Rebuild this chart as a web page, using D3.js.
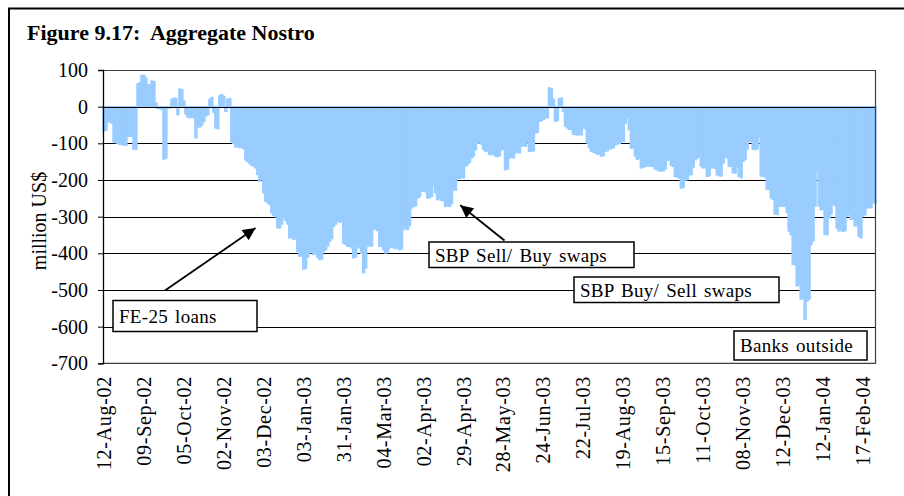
<!DOCTYPE html>
<html>
<head>
<meta charset="utf-8">
<script src="https://cdn.jsdelivr.net/npm/d3@7"></script>
<style>
  html, body { margin: 0; padding: 0; background: #fff; }
  svg { display: block; font-family: "Liberation Serif", "Times New Roman", serif; }
</style>
</head>
<body>
<div id="chart"></div>
<script>
/* ============================================================
   Figure 9.17: Aggregate Nostro - daily bars, million US$
   ============================================================ */

const W = 904, H = 496;
const PLOT = { left: 103, right: 876, top: 70, bottom: 363.3 };

// daily aggregate nostro (million US$), 20 trading days per row,
// starting 12-Aug-02 and running to end Feb-04
const nostro = [
  -66, -64, -42, -39, -45, -95, -98, -100, -103, -103, -105, -105, -81, -81, -80, -116, -116, 62, 65, 85,
  85, 78, 60, 58, 70, 68, 10, -5, -5, -8, -143, -140, -4, -3, 20, 23, 22, -22, 48, 46,
  15, -20, -28, -30, -28, -30, -85, -55, -55, -50, -40, -25, -22, 20, 25, -15, -58, -60, 30, 33,
  28, -13, 20, 22, -95, -100, -110, -108, -112, -110, -115, -145, -150, -155, -160, -162, -167, -185, -203, -198,
  -235, -258, -262, -266, -290, -296, -300, -330, -331, -320, -303, -310, -320, -358, -355, -362, -360, -395, -408, -405,
  -443, -440, -410, -399, -395, -403, -400, -410, -417, -415, -394, -390, -380, -367, -360, -326, -320, -312, -315, -312,
  -372, -375, -381, -380, -385, -412, -410, -381, -385, -400, -453, -440, -381, -378, -380, -335, -333, -338, -381, -380,
  -390, -399, -395, -385, -383, -385, -387, -385, -390, -388, -335, -330, -335, -325, -276, -272, -270, -249, -245, -231,
  -230, -232, -249, -248, -245, -216, -235, -254, -250, -255, -257, -272, -270, -272, -265, -226, -228, -194, -196, -192,
  -194, -162, -158, -152, -140, -135, -117, -100, -99, -102, -116, -122, -120, -130, -131, -130, -135, -136, -134, -117,
  -117, -172, -170, -140, -138, -140, -126, -124, -126, -108, -106, -108, -99, -122, -121, -120, -72, -70, -40, -38,
  -35, -31, -30, 51, 48, 20, -40, -38, 22, 23, -13, -53, -58, -62, -62, -75, -76, -77, -76, -77,
  -58, -60, -99, -112, -122, -124, -126, -130, -128, -135, -133, -122, -120, -115, -113, -112, -104, -102, -100, -95,
  -95, -45, -30, -63, -113, -112, -135, -144, -140, -167, -165, -163, -162, -160, -163, -162, -170, -172, -175, -175,
  -175, -170, -146, -145, -160, -163, -190, -192, -194, -222, -220, -200, -199, -186, -185, -165, -145, -140, -135, -162,
  -167, -165, -190, -188, -167, -165, -168, -186, -188, -189, -154, -135, -140, -163, -162, -180, -181, -165, -190, -194,
  -149, -144, -116, -95, -94, -116, -117, -115, -82, -189, -190, -192, -225, -226, -249, -253, -293, -294, -272, -271,
  -272, -270, -289, -339, -349, -430, -431, -489, -485, -525, -521, -580, -530, -525, -376, -366, -271, -175, -271, -281,
  -280, -348, -349, -303, -293, -264, -270, -331, -339, -335, -340, -338, -298, -294, -307, -305, -325, -322, -353, -358,
  -298, -295, -275, -276, -275, -263, -262
];

// category labels, one every 20 trading days
const dateLabels = [
  "12-Aug-02", "09-Sep-02", "05-Oct-02", "02-Nov-02", "03-Dec-02",
  "03-Jan-03", "31-Jan-03", "04-Mar-03", "02-Apr-03", "29-Apr-03",
  "28-May-03", "24-Jun-03", "22-Jul-03", "19-Aug-03", "15-Sep-03",
  "11-Oct-03", "08-Nov-03", "12-Dec-03", "12-Jan-04", "17-Feb-04"
];
const LABEL_STEP = 20;

const yTicks = [100, 0, -100, -200, -300, -400, -500, -600, -700];

const svg = d3.select("#chart")
  .append("svg")
  .attr("width", W)
  .attr("height", H);

// outer frame (runs off the right and bottom edges in the source)
svg.append("rect")
  .attr("x", 9).attr("y", 8.5)
  .attr("width", W + 20).attr("height", H + 20)
  .attr("fill", "#fff")
  .attr("stroke", "#000")
  .attr("stroke-width", 2);

svg.append("text")
  .attr("transform", "translate(27,40) scale(1.1,1)")
  .attr("font-size", 20)
  .attr("font-weight", "bold")
  .attr("xml:space", "preserve")
  .text("Figure 9.17:  Aggregate Nostro");

/* ---------- scales ---------- */
const x = d3.scaleBand()
  .domain(d3.range(nostro.length))
  .range([PLOT.left, PLOT.right])
  .padding(0);

const y = d3.scaleLinear()
  .domain([-700, 100])
  .range([PLOT.bottom, PLOT.top]);

/* ---------- gridlines ---------- */
svg.append("g")
  .selectAll("line")
  .data(yTicks.filter((t) => t < 100 && t > -700))
  .join("line")
  .attr("x1", PLOT.left).attr("x2", PLOT.right)
  .attr("y1", (d) => Math.round(y(d)) + 0.5)
  .attr("y2", (d) => Math.round(y(d)) + 0.5)
  .attr("stroke", "#000")
  .attr("stroke-width", 1);

/* ---------- bars ---------- */
svg.append("g")
  .selectAll("rect")
  .data(nostro)
  .join("rect")
  .attr("x", (d, i) => x(i))
  .attr("width", x.bandwidth())
  .attr("y", (d) => y(Math.max(0, d)))
  .attr("height", (d) => Math.abs(y(d) - y(0)))
  .attr("fill", "#99ccff")
  .attr("stroke", "#99ccff")
  .attr("stroke-width", 1.4);

// zero line sits on top of the bars
svg.append("line")
  .attr("x1", PLOT.left).attr("x2", PLOT.right)
  .attr("y1", Math.round(y(0)) + 0.5).attr("y2", Math.round(y(0)) + 0.5)
  .attr("stroke", "#000");

/* ---------- plot border ---------- */
svg.append("path")
  .attr("d", `M${PLOT.left},${PLOT.top + 0.5}H${PLOT.right - 0.5}V${PLOT.bottom}H${PLOT.left}`)
  .attr("fill", "none")
  .attr("stroke", "#404040")
  .attr("stroke-width", 1.2);

/* ---------- y axis ---------- */
const yAxis = svg.append("g")
  .attr("transform", `translate(${PLOT.left},0)`)
  .call(d3.axisLeft(y).tickValues(yTicks).tickSize(5).tickPadding(10).tickFormat((d) => String(d)));

yAxis.select(".domain").attr("stroke", "#000").attr("stroke-width", 1.3);
yAxis.selectAll("text")
  .attr("font-family", "Liberation Serif, serif")
  .attr("font-size", 20)
  .attr("fill", "#000");

svg.append("text")
  .attr("transform", "translate(46,221) rotate(-90)")
  .attr("text-anchor", "middle")
  .attr("font-size", 20)
  .text("million US$");

/* ---------- x labels ---------- */
svg.append("g")
  .selectAll("text")
  .data(dateLabels)
  .join("text")
  .attr("transform", (d, k) =>
    `translate(${x(k * LABEL_STEP) + x.bandwidth() / 2},376) rotate(-90)`)
  .attr("text-anchor", "end")
  .attr("dy", "0.35em")
  .attr("font-size", 20)
  .attr("letter-spacing", 0.7)
  .text((d) => d);

/* ---------- annotations ---------- */
svg.append("defs")
  .append("marker")
  .attr("id", "head")
  .attr("viewBox", "0 0 10 10")
  .attr("refX", 10).attr("refY", 5)
  .attr("markerWidth", 9).attr("markerHeight", 7)
  .attr("markerUnits", "strokeWidth")
  .attr("orient", "auto")
  .append("path")
  .attr("d", "M0,0L10,5L0,10Z")
  .attr("fill", "#000");

const arrows = [
  { x1: 165, y1: 290.5, x2: 255.5, y2: 228 },
  { x1: 504.5, y1: 240.5, x2: 460.3, y2: 205.3 },
];

svg.append("g")
  .selectAll("line")
  .data(arrows)
  .join("line")
  .attr("x1", (d) => d.x1).attr("y1", (d) => d.y1)
  .attr("x2", (d) => d.x2).attr("y2", (d) => d.y2)
  .attr("stroke", "#000")
  .attr("stroke-width", 1.8)
  .attr("marker-end", "url(#head)");

const notes = [
  { text: "FE-25 loans", x: 113, y: 300.5, w: 144, h: 31 },
  { text: "SBP Sell/ Buy swaps", x: 429, y: 242, w: 205, h: 25.5 },
  { text: "SBP Buy/ Sell swaps", x: 574, y: 277, w: 205, h: 25.5 },
  { text: "Banks outside", x: 734, y: 331, w: 133, h: 29 },
];

const note = svg.append("g")
  .selectAll("g")
  .data(notes)
  .join("g")
  .attr("transform", (d) => `translate(${d.x},${d.y})`);

note.append("rect")
  .attr("width", (d) => d.w)
  .attr("height", (d) => d.h)
  .attr("fill", "#fff")
  .attr("stroke", "#000")
  .attr("stroke-width", 1.5);

note.append("text")
  .attr("x", 6)
  .attr("y", (d) => d.h / 2)
  .attr("dy", "0.36em")
  .attr("font-size", 19)
  .attr("letter-spacing", 0.3)
  .attr("word-spacing", 2)
  .text((d) => d.text);
</script>
</body>
</html>
